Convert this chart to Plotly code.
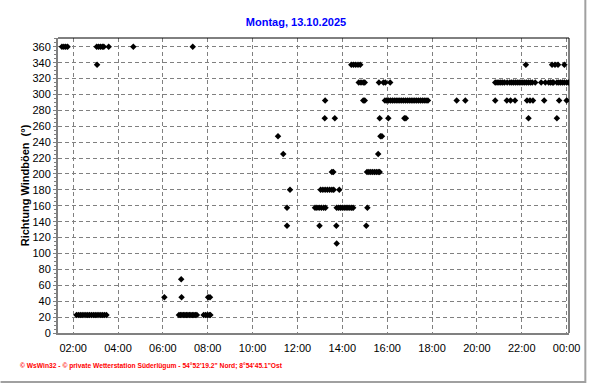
import pandas as pd
import plotly.graph_objects as go

title_text = "Montag, 13.10.2025"
y_title = "Richtung Windb\u00f6en\u00a0\u00a0(\u00b0)"
footer = "\u00a9 WsWin32 - \u00a9 private Wetterstation S\u00fcderl\u00fcgum - 54\u00b052'19.2\" Nord; 8\u00b054'45.1\"Ost"
base_date = "2025-10-13"

# gust direction samples, grouped by compass direction (deg): times HH:MM (24:xx = next day)
t_360 = ["01:30", "01:35", "01:40", "01:45", "03:03", "03:08", "03:13", "03:18", "03:22",
         "03:35", "04:41", "07:20"]
t_337 = ["03:04", "14:24", "14:30", "14:36", "14:42", "14:48", "22:11", "23:21", "23:29",
         "23:37", "23:54"]
t_315 = ["14:44", "14:50", "14:56", "15:00", "15:38", "15:50", "15:55", "16:08",
         "20:49", "20:54", "20:59", "21:04", "21:09", "21:14", "21:21", "21:28", "21:33",
         "21:38", "21:43", "21:48", "21:53", "21:58", "22:03", "22:08", "22:13", "22:18",
         "22:23", "22:28", "22:36", "22:52", "23:03", "23:12", "23:17", "23:22", "23:25",
         "23:34", "23:39", "23:44", "23:49", "23:54", "24:00", "24:05"]
t_292 = ["13:14", "14:56", "15:00", "15:54", "15:59", "16:04", "16:09", "16:14", "16:19",
         "16:24", "16:29", "16:34", "16:39", "16:44", "16:49", "16:54", "16:59", "17:04",
         "17:09", "17:14", "17:19", "17:24", "17:29", "17:34", "17:39", "17:44", "17:49",
         "19:06", "19:29", "20:49", "21:20", "21:30", "21:42", "22:14", "22:22", "22:30",
         "23:00", "23:40", "24:00"]
t_270 = ["13:13", "13:40", "15:40", "16:03", "16:46", "16:50", "22:18", "23:34"]
t_247 = ["11:08", "15:42", "15:46"]
t_225 = ["11:22", "15:36"]
t_202 = ["13:32", "13:36", "15:06", "15:11", "15:16", "15:21", "15:26", "15:31", "15:36",
         "15:40"]
t_180 = ["11:40", "13:02", "13:08", "13:14", "13:20", "13:26", "13:32", "13:37", "13:52"]
t_157 = ["11:32", "12:47", "12:52", "12:58", "13:04", "13:10", "13:15", "13:45", "13:50",
         "13:55", "14:00", "14:05", "14:10", "14:15", "14:20", "14:25", "14:29", "15:07"]
t_135 = ["11:32", "12:59", "13:44", "15:04"]
t_112 = ["13:45"]
t_67 = ["06:49"]
t_45 = ["06:04", "06:50", "08:01", "08:06"]
t_22 = ["02:09", "02:14", "02:19", "02:24", "02:29", "02:34", "02:39", "02:44", "02:49",
        "02:54", "02:59", "03:04", "03:09", "03:14", "03:19", "03:24", "03:29",
        "06:43", "06:47", "06:51", "06:55", "06:59", "07:03", "07:07", "07:11", "07:15",
        "07:19", "07:23", "07:27", "07:31", "07:49", "07:54", "07:59", "08:04", "08:07"]

groups = [(360, t_360), (337.5, t_337), (315, t_315), (292.5, t_292), (270, t_270),
          (247.5, t_247), (225, t_225), (202.5, t_202), (180, t_180), (157.5, t_157),
          (135, t_135), (112.5, t_112), (67.5, t_67), (45, t_45), (22.5, t_22)]

y_ticks = list(range(0, 361, 20))


def to_ts(hhmm):
    h, m = hhmm.split(":")
    return pd.Timestamp(base_date) + pd.Timedelta(hours=int(h), minutes=int(m))


xs, ys = [], []
for deg, times in groups:
    for t in times:
        xs.append(to_ts(t))
        ys.append(deg)

fig = go.Figure()
fig.add_trace(go.Scatter(
    x=xs, y=ys, mode="markers",
    marker=dict(symbol="diamond", size=5, color="black", line=dict(width=0)),
    showlegend=False, hoverinfo="x+y",
))

L, R, T, B = 58, 18, 38, 51
W, H = 592, 384
pw, ph = W - L - R, H - T - B


def px_x(px):
    return (px - L) / pw


def px_y(py):
    return (H - B - py) / ph


grid = dict(showgrid=True, gridcolor="#808080", gridwidth=1, griddash="4px,3px")
tickfont = dict(family="Liberation Sans, Arial, sans-serif", size=11, color="black")

fig.update_layout(
    width=W, height=H,
    margin=dict(l=L, r=R, t=T, b=B),
    paper_bgcolor="white", plot_bgcolor="white",
    title=dict(text="<b>" + title_text + "</b>", x=0.5, xref="container", xanchor="center",
               y=1 - 22 / H, yref="container", yanchor="middle",
               font=dict(family="Liberation Sans, Arial, sans-serif", size=11, color="#0000FF")),
    xaxis=dict(
        type="date",
        range=[to_ts("01:19") + pd.Timedelta(seconds=28), to_ts("24:06") + pd.Timedelta(seconds=22)],
        tick0=to_ts("02:00"), dtick=2 * 3600 * 1000, tickformat="%H:%M",
        tickfont=tickfont, ticks="outside", ticklen=4, tickcolor="rgba(0,0,0,0)",
        showline=True, linecolor="#808080", linewidth=2, zeroline=False, **grid,
    ),
    yaxis=dict(
        range=[0, 371], tickvals=y_ticks, tickfont=tickfont,
        ticks="outside", ticklen=3, tickcolor="#808080",
        minor=dict(dtick=5, ticks="outside", ticklen=2, tickcolor="#808080", showgrid=False),
        showline=True, linecolor="#808080", linewidth=2, zeroline=False,
        title=dict(text="<b>" + y_title + "</b>", standoff=1,
                   font=dict(family="Liberation Sans, Arial, sans-serif", size=11, color="black")),
        **grid,
    ),
    shapes=[
        dict(type="line", xref="paper", yref="paper", x0=0, x1=1, y0=1, y1=1,
             line=dict(color="black", width=1)),
        dict(type="line", xref="paper", yref="paper", x0=1, x1=1, y0=0, y1=1,
             line=dict(color="black", width=1)),
        dict(type="line", xref="paper", yref="paper", x0=px_x(590.5), x1=px_x(590.5),
             y0=px_y(0), y1=px_y(383), line=dict(color="#A0A0A0", width=2)),
        dict(type="line", xref="paper", yref="paper", x0=px_x(0), x1=px_x(591),
             y0=px_y(382), y1=px_y(382), line=dict(color="#A0A0A0", width=2)),
    ],
    annotations=[
        dict(text="<b>" + footer + "</b>", xref="paper", yref="paper",
             x=px_x(18), y=px_y(366), xanchor="left", yanchor="middle", showarrow=False,
             font=dict(family="Liberation Sans, Arial, sans-serif", size=6.7, color="#FF0000")),
    ],
)

fig.write_html("out.html")
